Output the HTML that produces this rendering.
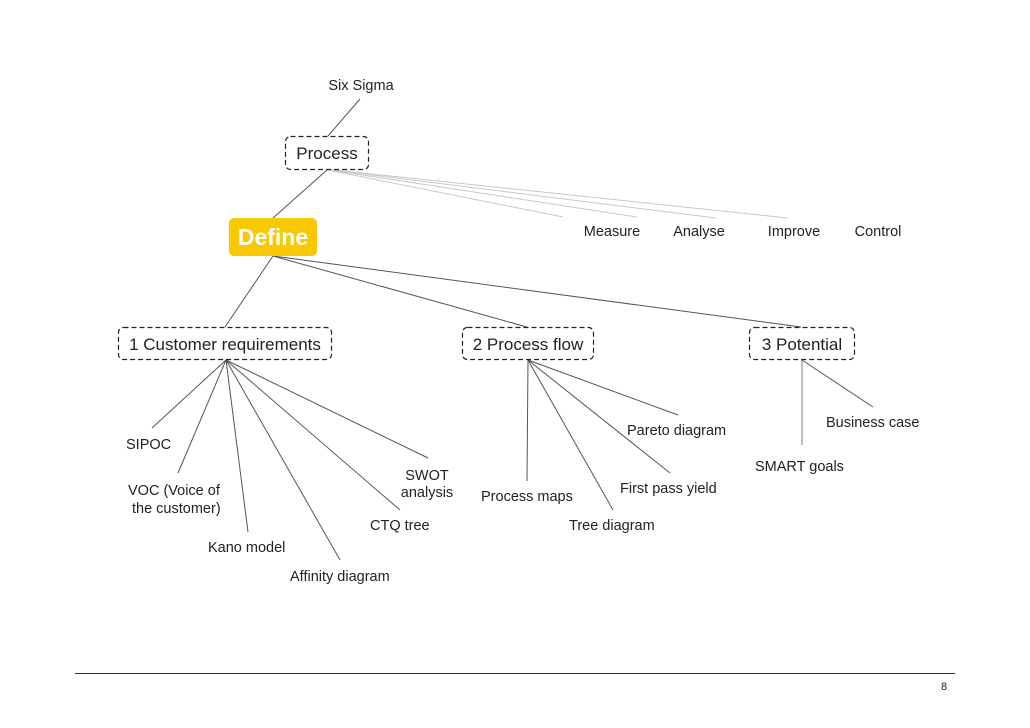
<!DOCTYPE html>
<html><head><meta charset="utf-8"><style>
html,body{margin:0;padding:0;background:#fff;}
svg{display:block;font-family:"Liberation Sans",sans-serif;}
</style></head><body>
<svg width="1030" height="728" viewBox="0 0 1030 728" xmlns="http://www.w3.org/2000/svg">
<g stroke="#c8c8c8" stroke-width="1" fill="none">
<line x1="328" y1="170" x2="563" y2="217"/>
<line x1="330" y1="170" x2="637" y2="217"/>
<line x1="332" y1="170" x2="716" y2="218"/>
<line x1="334" y1="170" x2="788" y2="218"/>
<line x1="802" y1="360" x2="802" y2="445" stroke="#aaa" stroke-width="1.5"/>
</g>
<g stroke="#555" stroke-width="1" fill="none">
<line x1="360" y1="99" x2="328" y2="136"/>
<line x1="327" y1="170" x2="273" y2="218"/>
<line x1="273" y1="256" x2="225" y2="327"/>
<line x1="273" y1="256" x2="527" y2="327"/>
<line x1="273" y1="256" x2="801" y2="327"/>
<line x1="226" y1="360" x2="152" y2="428"/>
<line x1="226" y1="360" x2="178" y2="473"/>
<line x1="226" y1="360" x2="248" y2="532"/>
<line x1="226" y1="360" x2="340" y2="560"/>
<line x1="226" y1="360" x2="400" y2="510"/>
<line x1="226" y1="360" x2="428" y2="458"/>
<line x1="528" y1="360" x2="527" y2="481"/>
<line x1="528" y1="360" x2="613" y2="510"/>
<line x1="528" y1="360" x2="670" y2="473"/>
<line x1="528" y1="360" x2="678" y2="415"/>
<line x1="802" y1="360" x2="873" y2="407"/>
</g>
<g fill="#fff" stroke="#222" stroke-width="1.2" stroke-dasharray="5,3">
<rect x="285.5" y="136.5" width="83" height="33" rx="5"/>
<rect x="118.5" y="327.5" width="213" height="32" rx="5"/>
<rect x="462.5" y="327.5" width="131" height="32" rx="5"/>
<rect x="749.5" y="327.5" width="105" height="32" rx="5"/>
</g>
<rect x="229" y="218" width="88" height="38" rx="5" fill="#F8C800"/>
<text x="273" y="245" text-anchor="middle" font-size="23" font-weight="bold" fill="#fff">Define</text>
<g fill="#222" font-size="17" text-anchor="middle">
<text x="327" y="159">Process</text>
<text x="225" y="350">1 Customer requirements</text>
<text x="528" y="350">2 Process flow</text>
<text x="802" y="350">3 Potential</text>
</g>
<g fill="#222" font-size="14.5">
<text x="361" y="90" text-anchor="middle">Six Sigma</text>
<text x="612" y="236" text-anchor="middle">Measure</text>
<text x="699" y="236" text-anchor="middle">Analyse</text>
<text x="794" y="236" text-anchor="middle">Improve</text>
<text x="878" y="236" text-anchor="middle">Control</text>
<text x="126" y="449">SIPOC</text>
<text x="128" y="495">VOC (Voice of</text>
<text x="132" y="513">the customer)</text>
<text x="208" y="552">Kano model</text>
<text x="290" y="581">Affinity diagram</text>
<text x="370" y="530">CTQ tree</text>
<text x="427" y="480" text-anchor="middle">SWOT</text>
<text x="427" y="497" text-anchor="middle">analysis</text>
<text x="481" y="501">Process maps</text>
<text x="569" y="530">Tree diagram</text>
<text x="620" y="493">First pass yield</text>
<text x="627" y="435">Pareto diagram</text>
<text x="755" y="471">SMART goals</text>
<text x="826" y="427">Business case</text>
<text x="941" y="690" font-size="11">8</text>
</g>
<line x1="75" y1="673.5" x2="955" y2="673.5" stroke="#333" stroke-width="1"/>
</svg>
</body></html>
